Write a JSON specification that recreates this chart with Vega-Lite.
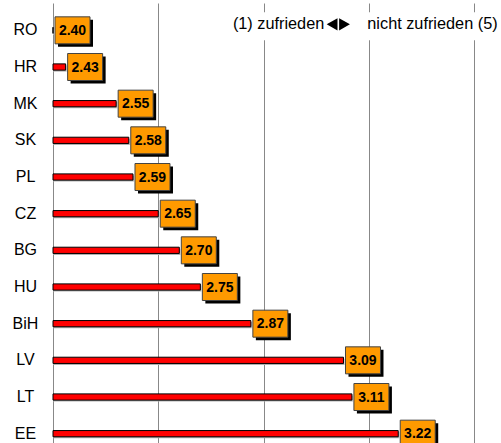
{
  "$schema": "https://vega.github.io/schema/vega-lite/v6.json",
  "autosize": {"type": "none"},
  "padding": {"left": 53, "top": 12, "right": 27, "bottom": 0},
  "width": 421,
  "height": 431,
  "background": "white",
  "config": {"view": {"stroke": null}, "font": "Liberation Sans"},
  "data": {"values": [
    {"country": "RO", "value": 2.40},
    {"country": "HR", "value": 2.43},
    {"country": "MK", "value": 2.55},
    {"country": "SK", "value": 2.58},
    {"country": "PL", "value": 2.59},
    {"country": "CZ", "value": 2.65},
    {"country": "BG", "value": 2.70},
    {"country": "HU", "value": 2.75},
    {"country": "BiH", "value": 2.87},
    {"country": "LV", "value": 3.09},
    {"country": "LT", "value": 3.11},
    {"country": "EE", "value": 3.22}
  ]},
  "encoding": {
    "y": {"field": "country", "type": "nominal", "sort": null, "title": null,
      "scale": {"range": [0, 440], "paddingInner": 0, "paddingOuter": 0},
      "axis": {"domain": false, "ticks": false, "grid": false, "labelAlign": "center", "labelPadding": 28,
        "labelFontSize": 16, "labelColor": "black", "labelFont": "Liberation Sans", "labelBaseline": "middle"}}
  },
  "layer": [
    {
      "data": {"values": [{"note": "bg"}]},
      "mark": {"type": "point", "shape": "M-1,-0.1037L1,-0.1037L1,0.1037L-1,0.1037Z", "filled": true, "fill": "white", "stroke": null, "size": 72900, "opacity": 1, "yOffset": -4},
      "encoding": {
        "x": {"datum": 3.135, "type": "quantitative",
          "scale": {"domain": [2.4, 3.4], "zero": false, "nice": false},
          "axis": {"grid": true, "gridColor": "#888", "gridWidth": 1, "values": [2.4, 2.65, 2.9, 3.15, 3.4], "labels": false, "ticks": false, "domain": false, "title": null}},
        "y": {"datum": "RO"}
      }
    },
    {
      "mark": {"type": "bar", "color": "#b0b0b0", "height": {"band": 0.17}, "yOffset": 1.5, "xOffset": 1},
      "encoding": {
        "x": {"field": "value", "type": "quantitative"},
        "x2": {"datum": 2.4}
      }
    },
    {
      "mark": {"type": "bar", "color": "#ff0000", "stroke": "black", "strokeWidth": 1, "height": {"band": 0.17}},
      "encoding": {
        "x": {"field": "value", "type": "quantitative"},
        "x2": {"datum": 2.4}
      }
    },
    {
      "mark": {"type": "point", "shape": "M-1,-0.7714L1,-0.7714L1,0.7714L-1,0.7714Z", "filled": true, "fill": "black", "stroke": null, "size": 1225, "opacity": 1, "xOffset": 22.5, "yOffset": 3},
      "encoding": {
        "x": {"field": "value", "type": "quantitative"}
      }
    },
    {
      "mark": {"type": "point", "shape": "M-1,-0.7714L1,-0.7714L1,0.7714L-1,0.7714Z", "filled": true, "fill": "#ff9a00", "stroke": "#444", "strokeWidth": 1, "size": 1225, "opacity": 1, "xOffset": 19.5},
      "encoding": {
        "x": {"field": "value", "type": "quantitative"}
      }
    },
    {
      "mark": {"type": "text", "font": "Liberation Sans", "fontWeight": "bold", "fontSize": 14, "color": "black", "align": "center", "baseline": "middle", "xOffset": 19.5, "yOffset": 0.5},
      "encoding": {
        "x": {"field": "value", "type": "quantitative"},
        "text": {"field": "value", "type": "quantitative", "format": ".2f"}
      }
    },
    {
      "data": {"values": [{"note": "(1) zufrieden"}]},
      "mark": {"type": "text", "font": "Liberation Sans", "fontWeight": "normal", "fontSize": 16.3, "color": "black", "align": "right", "baseline": "middle", "yOffset": -6},
      "encoding": {
        "x": {"datum": 3.0444, "type": "quantitative"},
        "y": {"datum": "RO"},
        "text": {"field": "note", "type": "nominal"}
      }
    },
    {
      "data": {"values": [{"note": "◀▶"}]},
      "mark": {"type": "point", "shape": "M-1,0L-0.07,-0.52L-0.07,0.52Z M0.07,-0.52L1,0L0.07,0.52Z", "filled": true, "fill": "black", "stroke": null, "size": 540, "opacity": 1, "yOffset": -6},
      "encoding": {
        "x": {"datum": 3.0777, "type": "quantitative"},
        "y": {"datum": "RO"}
      }
    },
    {
      "data": {"values": [{"note": "nicht zufrieden (5)"}]},
      "mark": {"type": "text", "font": "Liberation Sans", "fontWeight": "normal", "fontSize": 16.3, "color": "black", "align": "left", "baseline": "middle", "yOffset": -6},
      "encoding": {
        "x": {"datum": 3.1466, "type": "quantitative"},
        "y": {"datum": "RO"},
        "text": {"field": "note", "type": "nominal"}
      }
    }
  ]
}
